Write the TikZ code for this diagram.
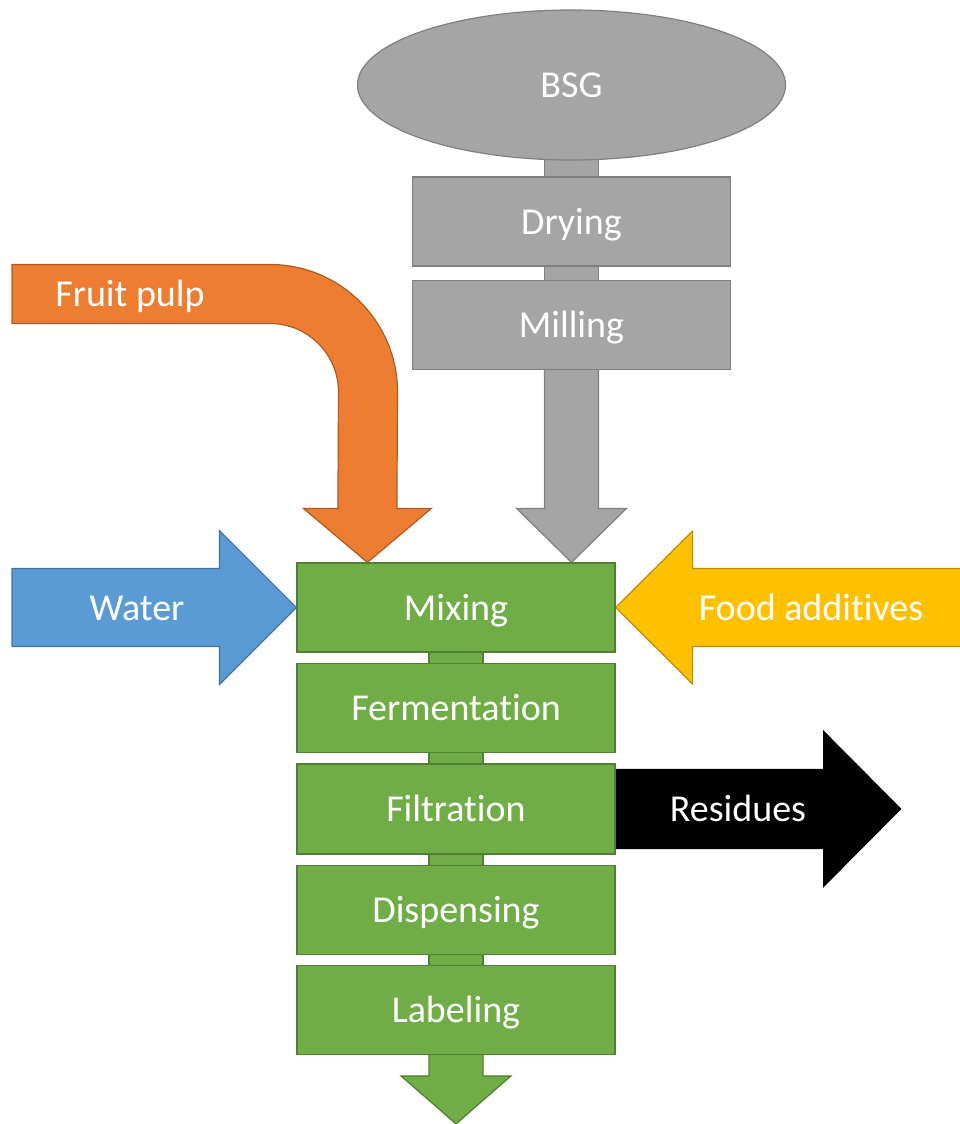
\documentclass[tikz,border=0pt]{standalone}
\usepackage{fontspec}
\setmainfont{Carlito}[Ligatures={NoCommon}]
\usetikzlibrary{calc,shapes.geometric,backgrounds}
\definecolor{grn}{HTML}{70AD47}
\definecolor{grnline}{HTML}{507E32}
\definecolor{gry}{HTML}{A5A5A5}
\definecolor{gryline}{HTML}{7F7F7F}
\definecolor{org}{HTML}{ED7D31}
\definecolor{orgline}{HTML}{AE5A21}
\definecolor{blu}{HTML}{5B9BD5}
\definecolor{bluline}{HTML}{41719C}
\definecolor{gld}{HTML}{FFC000}
\definecolor{gldline}{HTML}{BC8C00}
\begin{document}
\begin{tikzpicture}[x=1pt,y=-1pt,
  lbl/.style={text=white,font=\fontsize{38}{45}\selectfont,text height=30pt,text depth=5pt},
  stepbox/.style={lbl,rectangle,minimum width=318pt,minimum height=89pt,inner sep=0pt,line width=1.2pt},
  greenbox/.style={stepbox,fill=grn,draw=grnline},
  graybox/.style={stepbox,fill=gry,draw=gryline},
  greenflow/.style={fill=grn,draw=grnline,line width=1.2pt},
  grayflow/.style={fill=gry,draw=gryline,line width=1.2pt},
  orangeflow/.style={fill=org,draw=orgline,line width=1.2pt},
  blueflow/.style={fill=blu,draw=bluline,line width=1.2pt},
  goldflow/.style={fill=gld,draw=gldline,line width=1.2pt},
  blackflow/.style={fill=black,draw=black,line width=1.2pt}]
\useasboundingbox (0,0) rectangle (960,1124);

% raw material preparation
\node[ellipse,lbl,minimum width=428pt,minimum height=150pt,inner sep=0pt,
      fill=gry,draw=gryline,line width=1.2pt] (bsg) at (571.5,85) {BSG};
\node[graybox] (dry) at (571.5,221.5) {Drying};
\node[graybox] (mil) at (571.5,325) {Milling};

% main process line
\node[greenbox] (mix) at (456,607.5) {Mixing};
\node[greenbox] (fer) at (456,708.2) {Fermentation};
\node[greenbox] (fil) at (456,808.9) {Filtration};
\node[greenbox] (dis) at (456,909.6) {Dispensing};
\node[greenbox] (lab) at (456,1010.3) {Labeling};

% free ends of the block arrows
\coordinate (ostart) at (12,294);
\coordinate (obend) at (270,392);
\coordinate (otip) at ($(mix.north west)+(71,0)$);
\coordinate (gtip) at (mil.south |- mix.north);
\coordinate (wstart) at (12,607.5);
\coordinate (fstart) at (962,607.5);
\coordinate (rtip) at ($(fil.east)+(285,0)$);
\coordinate (btip) at ($(lab.south)+(0,68.5)$);

\begin{scope}[on background layer]
  % short links between consecutive steps
  \path[grayflow] ($(bsg.south)+(-27,-6)$) rectangle ($(dry.north)+(27,4)$);
  \path[grayflow] ($(dry.south)+(-27,-4)$) rectangle ($(mil.north)+(27,4)$);
  \path[greenflow] ($(mix.south)+(-27,-4)$) rectangle ($(fer.north)+(27,4)$);
  \path[greenflow] ($(fer.south)+(-27,-4)$) rectangle ($(fil.north)+(27,4)$);
  \path[greenflow] ($(fil.south)+(-27,-4)$) rectangle ($(dis.north)+(27,4)$);
  \path[greenflow] ($(dis.south)+(-27,-4)$) rectangle ($(lab.north)+(27,4)$);

  % milled BSG into mixing
  \path[grayflow] ($(mil.south)+(-27,-4)$) -- ($(gtip)+(-27,-54)$) -- ($(gtip)+(-55,-54)$)
    -- (gtip) -- ($(gtip)+(55,-54)$) -- ($(gtip)+(27,-54)$) -- ($(mil.south)+(27,-4)$) -- cycle;

  % product leaving the line
  \path[greenflow] ($(lab.south)+(-27,-4)$) -- ($(btip)+(-27,-48)$) -- ($(btip)+(-55,-48)$)
    -- (btip) -- ($(btip)+(55,-48)$) -- ($(btip)+(27,-48)$) -- ($(lab.south)+(27,-4)$) -- cycle;
\end{scope}

% fruit pulp (bent arrow)
\path[orangeflow] ($(ostart)+(0,-29.5)$) -- ($(obend)+(0,-127.5)$)
  arc[start angle=-90,end angle=0,radius=127.5]
  -- ($(otip)+(29.5,-54)$) -- ($(otip)+(64,-54)$) -- (otip)
  -- ($(otip)+(-64,-54)$) -- ($(otip)+(-29.5,-54)$)
  -- ($(obend)+(68.5,0)$) arc[start angle=0,end angle=-90,radius=68.5]
  -- ($(ostart)+(0,29.5)$) -- cycle;
\node[lbl] (tpulp) at (130,294) {Fruit pulp};

% water
\path[blueflow] ($(wstart)+(0,-39)$) -- ($(mix.west)+(-77,-39)$) -- ($(mix.west)+(-77,-77)$)
  -- (mix.west) -- ($(mix.west)+(-77,77)$) -- ($(mix.west)+(-77,39)$)
  -- ($(wstart)+(0,39)$) -- cycle;
\node[lbl] (twater) at (137,607.5) {Water};

% food additives
\path[goldflow] ($(fstart)+(0,-39)$) -- ($(mix.east)+(77,-39)$) -- ($(mix.east)+(77,-76.5)$)
  -- (mix.east) -- ($(mix.east)+(77,76.5)$) -- ($(mix.east)+(77,39)$)
  -- ($(fstart)+(0,39)$) -- cycle;
\node[lbl] (tadd) at (811,607.5) {Food additives};

% residues
\path[blackflow] ($(fil.east)+(0,-39.5)$) -- ($(rtip)+(-77,-39.5)$) -- ($(rtip)+(-77,-77.5)$)
  -- (rtip) -- ($(rtip)+(-77,77.5)$) -- ($(rtip)+(-77,39.5)$)
  -- ($(fil.east)+(0,39.5)$) -- cycle;
\node[lbl] (tres) at (738,808.5) {Residues};

% redraw the green box edges over the arrow tips
\draw[grnline,line width=1.2pt] (mix.north west) rectangle (mix.south east);
\draw[grnline,line width=1.2pt] (fil.north west) rectangle (fil.south east);
\end{tikzpicture}
\end{document}
